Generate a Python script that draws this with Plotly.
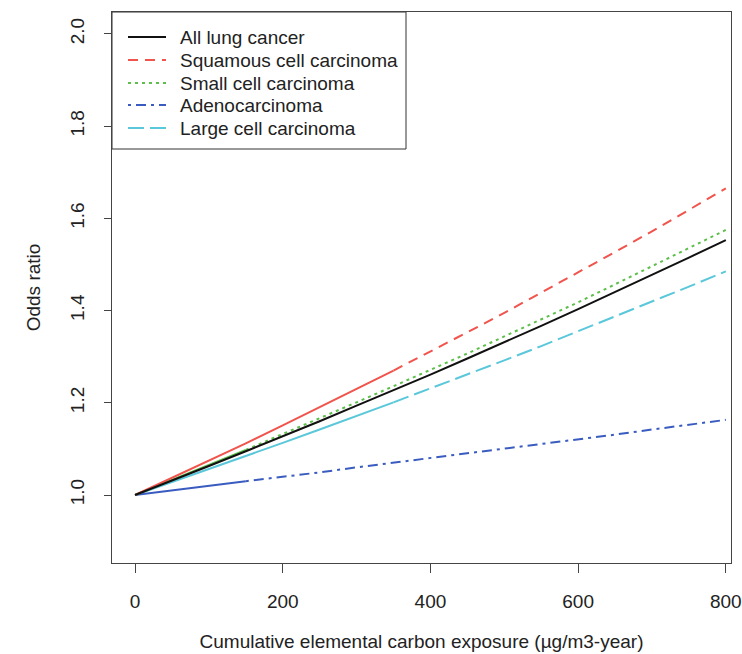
import plotly.graph_objects as go

# Cumulative elemental carbon exposure (µg/m3-year)
exposure = [0, 50, 100, 150, 200, 250, 300, 350, 400, 450, 500, 550, 600, 650, 700, 750, 800]

or_all = [1.000, 1.031, 1.063, 1.095, 1.127, 1.160, 1.194, 1.227, 1.261, 1.296,
          1.331, 1.367, 1.403, 1.440, 1.477, 1.515, 1.553]
or_squamous = [1.000, 1.037, 1.075, 1.112, 1.151, 1.190, 1.230, 1.270, 1.311, 1.353,
               1.395, 1.439, 1.482, 1.527, 1.572, 1.618, 1.665]
or_small = [1.000, 1.032, 1.065, 1.098, 1.132, 1.166, 1.201, 1.236, 1.271, 1.307,
            1.344, 1.381, 1.418, 1.457, 1.496, 1.535, 1.575]
or_adeno = [1.000, 1.010, 1.020, 1.030, 1.039, 1.049, 1.060, 1.070, 1.080, 1.090,
            1.100, 1.111, 1.121, 1.131, 1.142, 1.152, 1.163]
or_large = [1.000, 1.028, 1.056, 1.084, 1.113, 1.142, 1.171, 1.201, 1.231, 1.261,
            1.292, 1.323, 1.355, 1.387, 1.419, 1.452, 1.485]

series_names = ["All lung cancer", "Squamous cell carcinoma", "Small cell carcinoma",
                "Adenocarcinoma", "Large cell carcinoma"]
x_ticks = [0, 200, 400, 600, 800]
y_ticks = [1.0, 1.2, 1.4, 1.6, 1.8, 2.0]

# styling per series: colour, dash pattern, index where the dense early segment ends
styles = [
    ("#111111", "solid", 0),
    ("#F0544C", "10px,7px", 7),
    ("#5CBF4A", "3px,4px", 3),
    ("#3A5CC0", "3px,5px,10px,5px", 3),
    ("#5AC8DA", "16px,6px", 7),
]
values = [or_all, or_squamous, or_small, or_adeno, or_large]

# canvas geometry (pixels)
W, H = 742, 654
L, R, T, B = 112, 11, 12, 91
pw, ph = W - L - R, H - T - B

def px(x):
    return (x - L) / pw

def py(y):
    return 1 - (y - T) / ph

FS = 19

fig = go.Figure()

draw_order = [4, 3, 2, 1, 0]
for i in draw_order:
    col, dash, brk = styles[i]
    ys = values[i]
    if brk > 0:
        fig.add_trace(go.Scatter(x=exposure[:brk + 1], y=ys[:brk + 1], mode="lines",
                                 line=dict(color=col, width=2), showlegend=False,
                                 hoverinfo="skip"))
        fig.add_trace(go.Scatter(x=exposure[brk:], y=ys[brk:], mode="lines",
                                 name=series_names[i],
                                 line=dict(color=col, width=2, dash=dash), showlegend=False))
    else:
        fig.add_trace(go.Scatter(x=exposure, y=ys, mode="lines", name=series_names[i],
                                 line=dict(color=col, width=2, dash=dash), showlegend=False))

# legend box drawn at the top-left corner of the plot
shapes = [dict(type="rect", xref="paper", yref="paper",
               x0=px(112), x1=px(406), y0=py(149), y1=py(12),
               line=dict(color="#333333", width=1), fillcolor="white", layer="below")]
annotations = []
row_y = [37, 60, 83, 105, 128]
for i, name in enumerate(series_names):
    col, dash, _ = styles[i]
    shapes.append(dict(type="line", xref="paper", yref="paper",
                       x0=px(128), x1=px(166), y0=py(row_y[i]), y1=py(row_y[i]),
                       line=dict(color=col, width=2, dash=dash)))
    annotations.append(dict(xref="paper", yref="paper", x=px(178), y=py(row_y[i]),
                            text=name, showarrow=False, xanchor="left", yanchor="middle",
                            font=dict(size=FS, color="#222222")))

font_family = "Liberation Sans, Arial, sans-serif"
fig.update_layout(
    width=W, height=H,
    margin=dict(l=L, r=R, t=T, b=B, pad=0, autoexpand=False),
    paper_bgcolor="white", plot_bgcolor="white",
    font=dict(family=font_family, size=FS, color="#222222"),
    shapes=shapes, annotations=annotations,
    showlegend=False,
    xaxis=dict(range=[-31.2, 807], tickvals=x_ticks, ticktext=[str(v) for v in x_ticks],
               automargin=False,
               showgrid=False, zeroline=False, showline=True, mirror=True,
               linecolor="#444444", linewidth=1, ticks="outside", ticklen=9,
               tickcolor="#444444", ticklabelstandoff=12,
               title=dict(text="Cumulative elemental carbon exposure (µg/m3-year)",
                          standoff=23, font=dict(size=FS))),
    yaxis=dict(range=[0.8525, 2.0477], tickvals=y_ticks,
               ticktext=[f"{v:.1f}" for v in y_ticks], tickangle=-90,
               automargin=False,
               showgrid=False, zeroline=False, showline=True, mirror=True,
               linecolor="#444444", linewidth=1, ticks="outside", ticklen=7,
               tickcolor="#444444", ticklabelstandoff=12,
               title=dict(text="Odds ratio", standoff=21, font=dict(size=FS))),
)

fig.write_html("out.html")
